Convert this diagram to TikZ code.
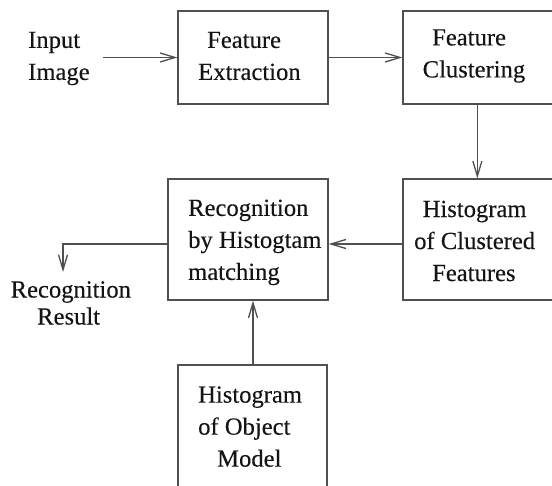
\documentclass[tikz,border=0pt]{standalone}
\usepackage{fontspec}
\setmainfont{Liberation Serif}
\newfontfamily\labelfont{Liberation Serif}[FakeBold=0.2]
\usetikzlibrary{arrows.meta}
\definecolor{linegray}{RGB}{80,80,80}
\definecolor{inkgray}{RGB}{20,20,20}

\begin{document}
\begin{tikzpicture}[x=1pt,y=-1pt,
  box/.style={draw=linegray, line width=1.3pt, inner sep=0pt, rectangle},
  lbl/.style={font=\labelfont\fontsize{24.6}{32}\selectfont, text=inkgray, align=left, inner sep=0pt, anchor=west},
  flow/.style={draw=linegray, line width=1.3pt,
    -{Straight Barb[length=15pt,width=9pt,line width=1.3pt]}}]

\useasboundingbox (0,0) rectangle (552,486);
\fill[white] (0,0) rectangle (552,486);
\clip (0,0) rectangle (552,486);

% blocks of the processing chain
\node[box, minimum width=150pt, minimum height=93pt]  (fe)  at (253,57.5)   {};
\node[box, minimum width=217pt, minimum height=93pt]  (fc)  at (511.5,57.5) {};
\node[box, minimum width=217pt, minimum height=121pt] (hcf) at (511.5,239.5) {};
\node[box, minimum width=160pt, minimum height=121pt] (rec) at (248,239.5)  {};
\node[box, minimum width=149pt, minimum height=125pt] (obj) at (252.5,427.5) {};

% texts
\node[lbl] (inlbl)  at (28,58.5)    {Input\\Image};
\node[lbl] (felbl)  at (198,56)     {\hspace*{9pt}Feature\\Extraction};
\node[lbl] (fclbl)  at (422.5,56)   {\hspace*{9.5pt}Feature\\Clustering};
\node[lbl] (hcflbl) at (414,241)    {\hspace*{8.5pt}Histogram\\of Clustered\\\hspace*{18pt}Features};
\node[lbl] (reclbl) at (188,242.4)  {Recognition\\by Histogtam\\matching};
\node[lbl, font=\labelfont\fontsize{24.6}{27}\selectfont] (reslbl) at (10.5,303) {Recognition\\\hspace*{26.5pt}Result};
\node[lbl] (objlbl) at (198,426.6)  {Histogram\\of Object\\\hspace*{19pt}Model};

% connectors
\coordinate (inA) at (103,57.5);
\coordinate (resTip) at (63,272);
\draw[flow] (inA) -- (fe.west);
\draw[flow] (fe.east) -- (fc.west);
\draw[flow] ([xshift=75pt]fc.south west) -- ([xshift=75pt]hcf.north west);
\draw[flow] ([yshift=-4.5pt]hcf.west) -- ([yshift=-4.5pt]rec.east);
\draw[flow] ([yshift=-4.5pt]rec.west) -| (resTip);
\draw[flow] ([xshift=0.5pt]obj.north) -- ([xshift=0.5pt]obj.north |- rec.south);
\end{tikzpicture}
\end{document}
